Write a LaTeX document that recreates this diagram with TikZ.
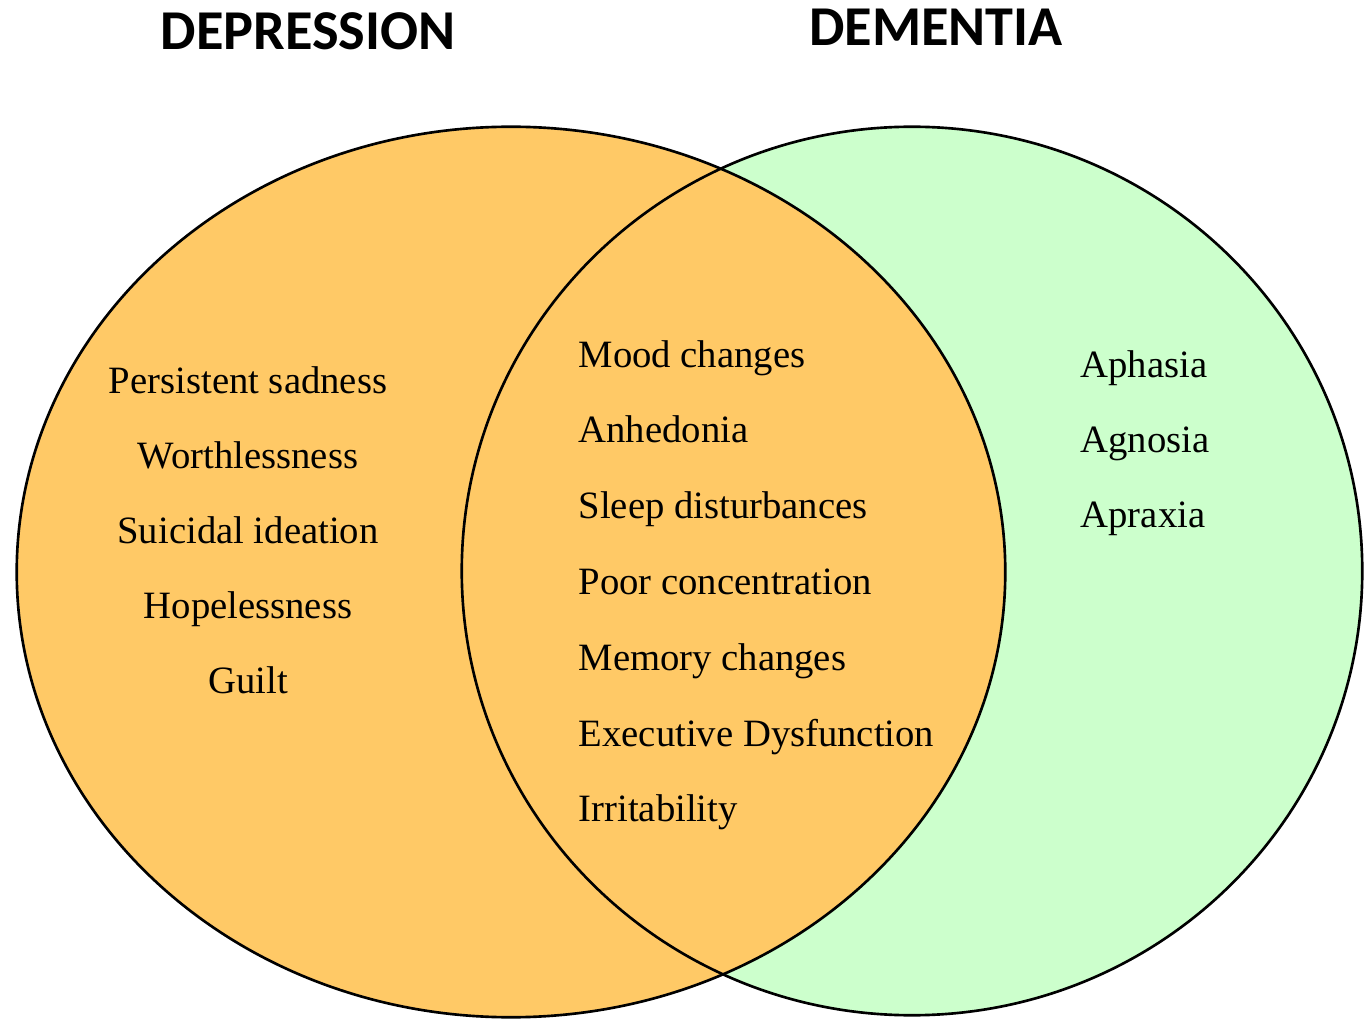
\documentclass[tikz,border=0pt]{standalone}
\usepackage{fontspec}
\setmainfont{Liberation Serif}
\newfontfamily\titlefont{Carlito}
\usetikzlibrary{positioning}
\definecolor{depfill}{RGB}{255,201,102}
\definecolor{demfill}{RGB}{204,255,204}

\begin{document}
\begin{tikzpicture}[x=0.01cm,y=-0.01cm,every node/.style={font=\fontsize{11}{13}\selectfont,inner sep=0pt,text height=1.5ex,text depth=.25ex},
 ttl/.style={font=\titlefont\bfseries\fontsize{16}{18}\selectfont},
 rim/.style={draw=black,line width=0.75pt}]
\useasboundingbox (0,0) rectangle (1364,1019);
\coordinate (dep) at (511,572);
\coordinate (dem) at (912,571);
% sets
\fill[demfill] (dem) ellipse [x radius=4.5cm,y radius=4.44cm];
\fill[depfill] (dep) ellipse [x radius=4.94cm,y radius=4.45cm];
\draw[rim] (dem) ellipse [x radius=4.5cm,y radius=4.44cm];
\draw[rim] (dep) ellipse [x radius=4.94cm,y radius=4.45cm];
% titles
\node[ttl] (tdep) at (308,39) {DEPRESSION};
\node[ttl] (tdem) at (936,35) {DEMENTIA};
% depression only
\foreach \t [count=\i] in {Persistent sadness,Worthlessness,Suicidal ideation,Hopelessness,Guilt}
 \node (d\i) at (248,{383+75.2*(\i-1)}) {\t};
% both
\foreach \t [count=\i] in {Mood changes,Anhedonia,Sleep disturbances,Poor concentration,Memory changes,Executive Dysfunction,Irritability}
 \node[anchor=west] (b\i) at (578,{357+75.8*(\i-1)}) {\t};
% dementia only
\foreach \t [count=\i] in {Aphasia,Agnosia,Apraxia}
 \node[anchor=west] (m\i) at (1080,{367+75*(\i-1)}) {\t};
\end{tikzpicture}
\end{document}
